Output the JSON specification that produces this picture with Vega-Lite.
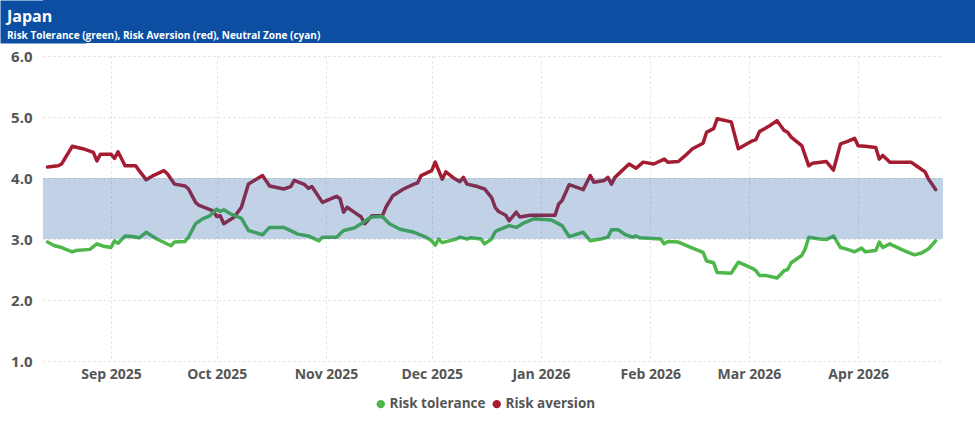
{
  "$schema": "https://vega.github.io/schema/vega-lite/v6.json",
  "padding": 0,
  "background": "white",
  "spacing": 6,
  "config": {
    "font": "Open Sans",
    "view": {"stroke": null}
  },
  "vconcat": [
    {
      "width": 932,
      "height": 43,
      "data": {"values": [{"v": 0}]},
      "layer": [
        {"mark": {"type": "rect", "color": "#0B4EA2"}, "encoding": {}},
        {
          "mark": {"type": "point", "opacity": 0},
          "encoding": {
            "y": {
              "field": "v", "type": "quantitative",
              "axis": {
                "title": null, "labels": false, "ticks": false, "grid": false,
                "domain": true, "domainWidth": 86, "domainColor": "#0B4EA2", "domainCap": "butt",
                "minExtent": 43, "maxExtent": 43
              }
            }
          }
        }
      ],
      "title": {
        "text": "Japan",
        "subtitle": "Risk Tolerance (green), Risk Aversion (red), Neutral Zone (cyan)",
        "anchor": "start",
        "frame": "group",
        "orient": "top",
        "offset": -41,
        "dx": -36,
        "color": "white",
        "subtitleColor": "white",
        "font": "Open Sans",
        "subtitleFont": "Open Sans",
        "fontSize": 16,
        "subtitleFontSize": 10,
        "fontWeight": "bold",
        "subtitleFontWeight": "bold",
        "subtitlePadding": 6
      }
    },
    {
      "width": 900,
      "height": 305,
      "layer": [
        {
          "data": {"name": "series"},
          "mark": {"type": "line", "strokeWidth": 3.5, "strokeJoin": "round", "strokeCap": "round"},
          "encoding": {
            "x": {
              "field": "date", "type": "temporal",
              "scale": {"domain": ["2025-08-12T17:00:00", "2026-04-25T02:00:00"]},
              "axis": {
                "title": null,
                "format": "%b %Y",
                "tickCount": {"interval": "month", "step": 1},
                "grid": true,
                "gridDash": [2, 3],
                "gridColor": "#dcdcdc",
                "domain": false,
                "ticks": false,
                "labelPadding": 6,
                "labelFont": "Open Sans",
                "labelFontSize": 14,
                "labelFontWeight": "bold",
                "labelColor": "#555555"
              }
            },
            "y": {
              "field": "value", "type": "quantitative",
              "scale": {"domain": [1, 6], "nice": false, "zero": false},
              "axis": {
                "title": null,
                "values": [1, 2, 3, 4, 5, 6],
                "format": ".1f",
                "grid": true,
                "gridDash": [2, 3],
                "gridColor": "#dcdcdc",
                "domain": false,
                "ticks": false,
                "labelPadding": 11,
                "minExtent": 43,
                "maxExtent": 43,
                "labelFont": "Open Sans",
                "labelFontSize": 15,
                "labelFontWeight": "bold",
                "labelColor": "#555555"
              }
            },
            "color": {
              "field": "series", "type": "nominal",
              "scale": {"domain": ["Risk tolerance", "Risk aversion"], "range": ["#4DB849", "#A51C30"]},
              "legend": {
                "title": null,
                "orient": "none",
                "legendX": 331,
                "legendY": 397,
                "direction": "horizontal",
                "symbolType": "circle",
                "symbolSize": 70,
                "symbolStrokeWidth": 0,
                "labelFont": "Open Sans",
                "labelFontSize": 13.5,
                "labelFontWeight": "bold",
                "labelColor": "#555555",
                "columnPadding": 4,
                "labelOffset": 2,
                "encode": {"symbols": {"update": {"fill": {"scale": "color", "field": "value"}}}}
              }
            }
          }
        },
        {
          "data": {"values": [{"start": "2025-08-12T17:00:00", "end": "2026-04-25T02:00:00", "lo": 3, "hi": 4}]},
          "mark": {"type": "rect", "color": "#1F5FA8", "opacity": 0.28},
          "encoding": {
            "x": {"field": "start", "type": "temporal"},
            "x2": {"field": "end"},
            "y": {"field": "lo", "type": "quantitative"},
            "y2": {"field": "hi"}
          }
        }
      ]
    }
  ],
  "datasets": {
    "series": [
      {"date": "2025-08-14", "series": "Risk aversion", "value": 4.18},
      {"date": "2025-08-17", "series": "Risk aversion", "value": 4.20},
      {"date": "2025-08-18", "series": "Risk aversion", "value": 4.23},
      {"date": "2025-08-21", "series": "Risk aversion", "value": 4.52},
      {"date": "2025-08-24", "series": "Risk aversion", "value": 4.48},
      {"date": "2025-08-27", "series": "Risk aversion", "value": 4.42},
      {"date": "2025-08-28", "series": "Risk aversion", "value": 4.28},
      {"date": "2025-08-29", "series": "Risk aversion", "value": 4.39},
      {"date": "2025-09-01", "series": "Risk aversion", "value": 4.39},
      {"date": "2025-09-02", "series": "Risk aversion", "value": 4.32},
      {"date": "2025-09-03", "series": "Risk aversion", "value": 4.43},
      {"date": "2025-09-05", "series": "Risk aversion", "value": 4.20},
      {"date": "2025-09-08", "series": "Risk aversion", "value": 4.20},
      {"date": "2025-09-09", "series": "Risk aversion", "value": 4.12},
      {"date": "2025-09-11", "series": "Risk aversion", "value": 3.97},
      {"date": "2025-09-13", "series": "Risk aversion", "value": 4.04},
      {"date": "2025-09-16", "series": "Risk aversion", "value": 4.12},
      {"date": "2025-09-17", "series": "Risk aversion", "value": 4.07},
      {"date": "2025-09-19", "series": "Risk aversion", "value": 3.90},
      {"date": "2025-09-22", "series": "Risk aversion", "value": 3.87},
      {"date": "2025-09-23", "series": "Risk aversion", "value": 3.82},
      {"date": "2025-09-25", "series": "Risk aversion", "value": 3.60},
      {"date": "2025-09-26", "series": "Risk aversion", "value": 3.55},
      {"date": "2025-09-30", "series": "Risk aversion", "value": 3.46},
      {"date": "2025-10-01", "series": "Risk aversion", "value": 3.37},
      {"date": "2025-10-02", "series": "Risk aversion", "value": 3.38},
      {"date": "2025-10-03", "series": "Risk aversion", "value": 3.25},
      {"date": "2025-10-06", "series": "Risk aversion", "value": 3.36},
      {"date": "2025-10-08", "series": "Risk aversion", "value": 3.52},
      {"date": "2025-10-10", "series": "Risk aversion", "value": 3.90},
      {"date": "2025-10-12", "series": "Risk aversion", "value": 3.97},
      {"date": "2025-10-14", "series": "Risk aversion", "value": 4.04},
      {"date": "2025-10-16", "series": "Risk aversion", "value": 3.87},
      {"date": "2025-10-20", "series": "Risk aversion", "value": 3.82},
      {"date": "2025-10-22", "series": "Risk aversion", "value": 3.86},
      {"date": "2025-10-23", "series": "Risk aversion", "value": 3.96},
      {"date": "2025-10-26", "series": "Risk aversion", "value": 3.89},
      {"date": "2025-10-27", "series": "Risk aversion", "value": 3.83},
      {"date": "2025-10-28", "series": "Risk aversion", "value": 3.86},
      {"date": "2025-10-31", "series": "Risk aversion", "value": 3.60},
      {"date": "2025-11-04", "series": "Risk aversion", "value": 3.70},
      {"date": "2025-11-05", "series": "Risk aversion", "value": 3.66},
      {"date": "2025-11-06", "series": "Risk aversion", "value": 3.44},
      {"date": "2025-11-07", "series": "Risk aversion", "value": 3.52},
      {"date": "2025-11-09", "series": "Risk aversion", "value": 3.44},
      {"date": "2025-11-11", "series": "Risk aversion", "value": 3.36},
      {"date": "2025-11-12", "series": "Risk aversion", "value": 3.25},
      {"date": "2025-11-14", "series": "Risk aversion", "value": 3.38},
      {"date": "2025-11-17", "series": "Risk aversion", "value": 3.38},
      {"date": "2025-11-18", "series": "Risk aversion", "value": 3.52},
      {"date": "2025-11-20", "series": "Risk aversion", "value": 3.71},
      {"date": "2025-11-23", "series": "Risk aversion", "value": 3.82},
      {"date": "2025-11-26", "series": "Risk aversion", "value": 3.90},
      {"date": "2025-11-27", "series": "Risk aversion", "value": 3.92},
      {"date": "2025-11-28", "series": "Risk aversion", "value": 4.04},
      {"date": "2025-12-01", "series": "Risk aversion", "value": 4.12},
      {"date": "2025-12-02", "series": "Risk aversion", "value": 4.26},
      {"date": "2025-12-04", "series": "Risk aversion", "value": 3.98},
      {"date": "2025-12-05", "series": "Risk aversion", "value": 4.10},
      {"date": "2025-12-07", "series": "Risk aversion", "value": 4.01},
      {"date": "2025-12-09", "series": "Risk aversion", "value": 3.94},
      {"date": "2025-12-10", "series": "Risk aversion", "value": 4.01},
      {"date": "2025-12-11", "series": "Risk aversion", "value": 3.90},
      {"date": "2025-12-14", "series": "Risk aversion", "value": 3.86},
      {"date": "2025-12-16", "series": "Risk aversion", "value": 3.82},
      {"date": "2025-12-18", "series": "Risk aversion", "value": 3.68},
      {"date": "2025-12-19", "series": "Risk aversion", "value": 3.52},
      {"date": "2025-12-20", "series": "Risk aversion", "value": 3.45},
      {"date": "2025-12-22", "series": "Risk aversion", "value": 3.39},
      {"date": "2025-12-23", "series": "Risk aversion", "value": 3.30},
      {"date": "2025-12-25", "series": "Risk aversion", "value": 3.44},
      {"date": "2025-12-26", "series": "Risk aversion", "value": 3.36},
      {"date": "2025-12-29", "series": "Risk aversion", "value": 3.39},
      {"date": "2026-01-05", "series": "Risk aversion", "value": 3.39},
      {"date": "2026-01-06", "series": "Risk aversion", "value": 3.57},
      {"date": "2026-01-07", "series": "Risk aversion", "value": 3.63},
      {"date": "2026-01-09", "series": "Risk aversion", "value": 3.89},
      {"date": "2026-01-11", "series": "Risk aversion", "value": 3.85},
      {"date": "2026-01-13", "series": "Risk aversion", "value": 3.81},
      {"date": "2026-01-15", "series": "Risk aversion", "value": 4.04},
      {"date": "2026-01-16", "series": "Risk aversion", "value": 3.93},
      {"date": "2026-01-19", "series": "Risk aversion", "value": 3.96},
      {"date": "2026-01-20", "series": "Risk aversion", "value": 4.01},
      {"date": "2026-01-21", "series": "Risk aversion", "value": 3.90},
      {"date": "2026-01-22", "series": "Risk aversion", "value": 4.01},
      {"date": "2026-01-26", "series": "Risk aversion", "value": 4.23},
      {"date": "2026-01-28", "series": "Risk aversion", "value": 4.16},
      {"date": "2026-01-30", "series": "Risk aversion", "value": 4.26},
      {"date": "2026-02-02", "series": "Risk aversion", "value": 4.23},
      {"date": "2026-02-05", "series": "Risk aversion", "value": 4.31},
      {"date": "2026-02-06", "series": "Risk aversion", "value": 4.26},
      {"date": "2026-02-09", "series": "Risk aversion", "value": 4.27},
      {"date": "2026-02-11", "series": "Risk aversion", "value": 4.37},
      {"date": "2026-02-13", "series": "Risk aversion", "value": 4.48},
      {"date": "2026-02-16", "series": "Risk aversion", "value": 4.57},
      {"date": "2026-02-17", "series": "Risk aversion", "value": 4.75},
      {"date": "2026-02-19", "series": "Risk aversion", "value": 4.81},
      {"date": "2026-02-20", "series": "Risk aversion", "value": 4.97},
      {"date": "2026-02-24", "series": "Risk aversion", "value": 4.92},
      {"date": "2026-02-26", "series": "Risk aversion", "value": 4.48},
      {"date": "2026-03-02", "series": "Risk aversion", "value": 4.61},
      {"date": "2026-03-03", "series": "Risk aversion", "value": 4.63},
      {"date": "2026-03-04", "series": "Risk aversion", "value": 4.76},
      {"date": "2026-03-07", "series": "Risk aversion", "value": 4.86},
      {"date": "2026-03-09", "series": "Risk aversion", "value": 4.94},
      {"date": "2026-03-11", "series": "Risk aversion", "value": 4.78},
      {"date": "2026-03-12", "series": "Risk aversion", "value": 4.75},
      {"date": "2026-03-13", "series": "Risk aversion", "value": 4.67},
      {"date": "2026-03-16", "series": "Risk aversion", "value": 4.53},
      {"date": "2026-03-18", "series": "Risk aversion", "value": 4.20},
      {"date": "2026-03-19", "series": "Risk aversion", "value": 4.24},
      {"date": "2026-03-23", "series": "Risk aversion", "value": 4.27},
      {"date": "2026-03-25", "series": "Risk aversion", "value": 4.13},
      {"date": "2026-03-27", "series": "Risk aversion", "value": 4.56},
      {"date": "2026-03-29", "series": "Risk aversion", "value": 4.60},
      {"date": "2026-03-31", "series": "Risk aversion", "value": 4.65},
      {"date": "2026-04-01", "series": "Risk aversion", "value": 4.53},
      {"date": "2026-04-03", "series": "Risk aversion", "value": 4.52},
      {"date": "2026-04-06", "series": "Risk aversion", "value": 4.50},
      {"date": "2026-04-07", "series": "Risk aversion", "value": 4.31},
      {"date": "2026-04-08", "series": "Risk aversion", "value": 4.37},
      {"date": "2026-04-10", "series": "Risk aversion", "value": 4.26},
      {"date": "2026-04-16", "series": "Risk aversion", "value": 4.26},
      {"date": "2026-04-18", "series": "Risk aversion", "value": 4.18},
      {"date": "2026-04-20", "series": "Risk aversion", "value": 4.10},
      {"date": "2026-04-21", "series": "Risk aversion", "value": 3.98},
      {"date": "2026-04-23", "series": "Risk aversion", "value": 3.81},
      {"date": "2025-08-14", "series": "Risk tolerance", "value": 2.95},
      {"date": "2025-08-16", "series": "Risk tolerance", "value": 2.89},
      {"date": "2025-08-18", "series": "Risk tolerance", "value": 2.86},
      {"date": "2025-08-21", "series": "Risk tolerance", "value": 2.79},
      {"date": "2025-08-22", "series": "Risk tolerance", "value": 2.81},
      {"date": "2025-08-26", "series": "Risk tolerance", "value": 2.83},
      {"date": "2025-08-28", "series": "Risk tolerance", "value": 2.92},
      {"date": "2025-08-30", "series": "Risk tolerance", "value": 2.88},
      {"date": "2025-09-01", "series": "Risk tolerance", "value": 2.86},
      {"date": "2025-09-02", "series": "Risk tolerance", "value": 2.97},
      {"date": "2025-09-03", "series": "Risk tolerance", "value": 2.93},
      {"date": "2025-09-05", "series": "Risk tolerance", "value": 3.05},
      {"date": "2025-09-07", "series": "Risk tolerance", "value": 3.04},
      {"date": "2025-09-09", "series": "Risk tolerance", "value": 3.02},
      {"date": "2025-09-11", "series": "Risk tolerance", "value": 3.11},
      {"date": "2025-09-14", "series": "Risk tolerance", "value": 3.00},
      {"date": "2025-09-18", "series": "Risk tolerance", "value": 2.89},
      {"date": "2025-09-19", "series": "Risk tolerance", "value": 2.95},
      {"date": "2025-09-22", "series": "Risk tolerance", "value": 2.96},
      {"date": "2025-09-23", "series": "Risk tolerance", "value": 3.03},
      {"date": "2025-09-25", "series": "Risk tolerance", "value": 3.25},
      {"date": "2025-09-27", "series": "Risk tolerance", "value": 3.33},
      {"date": "2025-09-29", "series": "Risk tolerance", "value": 3.38},
      {"date": "2025-10-01", "series": "Risk tolerance", "value": 3.49},
      {"date": "2025-10-02", "series": "Risk tolerance", "value": 3.45},
      {"date": "2025-10-03", "series": "Risk tolerance", "value": 3.48},
      {"date": "2025-10-05", "series": "Risk tolerance", "value": 3.41},
      {"date": "2025-10-08", "series": "Risk tolerance", "value": 3.34},
      {"date": "2025-10-10", "series": "Risk tolerance", "value": 3.14},
      {"date": "2025-10-14", "series": "Risk tolerance", "value": 3.07},
      {"date": "2025-10-16", "series": "Risk tolerance", "value": 3.19},
      {"date": "2025-10-20", "series": "Risk tolerance", "value": 3.19},
      {"date": "2025-10-24", "series": "Risk tolerance", "value": 3.08},
      {"date": "2025-10-27", "series": "Risk tolerance", "value": 3.05},
      {"date": "2025-10-30", "series": "Risk tolerance", "value": 2.97},
      {"date": "2025-10-31", "series": "Risk tolerance", "value": 3.03},
      {"date": "2025-11-04", "series": "Risk tolerance", "value": 3.03},
      {"date": "2025-11-06", "series": "Risk tolerance", "value": 3.14},
      {"date": "2025-11-09", "series": "Risk tolerance", "value": 3.18},
      {"date": "2025-11-11", "series": "Risk tolerance", "value": 3.25},
      {"date": "2025-11-13", "series": "Risk tolerance", "value": 3.33},
      {"date": "2025-11-14", "series": "Risk tolerance", "value": 3.36},
      {"date": "2025-11-17", "series": "Risk tolerance", "value": 3.37},
      {"date": "2025-11-19", "series": "Risk tolerance", "value": 3.25},
      {"date": "2025-11-22", "series": "Risk tolerance", "value": 3.16},
      {"date": "2025-11-26", "series": "Risk tolerance", "value": 3.11},
      {"date": "2025-11-29", "series": "Risk tolerance", "value": 3.04},
      {"date": "2025-12-01", "series": "Risk tolerance", "value": 2.97},
      {"date": "2025-12-02", "series": "Risk tolerance", "value": 2.90},
      {"date": "2025-12-03", "series": "Risk tolerance", "value": 3.00},
      {"date": "2025-12-04", "series": "Risk tolerance", "value": 2.94},
      {"date": "2025-12-08", "series": "Risk tolerance", "value": 3.00},
      {"date": "2025-12-09", "series": "Risk tolerance", "value": 3.03},
      {"date": "2025-12-11", "series": "Risk tolerance", "value": 3.00},
      {"date": "2025-12-12", "series": "Risk tolerance", "value": 3.02},
      {"date": "2025-12-15", "series": "Risk tolerance", "value": 3.00},
      {"date": "2025-12-16", "series": "Risk tolerance", "value": 2.92},
      {"date": "2025-12-18", "series": "Risk tolerance", "value": 3.00},
      {"date": "2025-12-19", "series": "Risk tolerance", "value": 3.12},
      {"date": "2025-12-20", "series": "Risk tolerance", "value": 3.15},
      {"date": "2025-12-23", "series": "Risk tolerance", "value": 3.22},
      {"date": "2025-12-25", "series": "Risk tolerance", "value": 3.19},
      {"date": "2025-12-27", "series": "Risk tolerance", "value": 3.26},
      {"date": "2025-12-30", "series": "Risk tolerance", "value": 3.33},
      {"date": "2026-01-04", "series": "Risk tolerance", "value": 3.31},
      {"date": "2026-01-07", "series": "Risk tolerance", "value": 3.22},
      {"date": "2026-01-09", "series": "Risk tolerance", "value": 3.04},
      {"date": "2026-01-13", "series": "Risk tolerance", "value": 3.11},
      {"date": "2026-01-15", "series": "Risk tolerance", "value": 2.97},
      {"date": "2026-01-18", "series": "Risk tolerance", "value": 3.00},
      {"date": "2026-01-20", "series": "Risk tolerance", "value": 3.03},
      {"date": "2026-01-21", "series": "Risk tolerance", "value": 3.15},
      {"date": "2026-01-23", "series": "Risk tolerance", "value": 3.15},
      {"date": "2026-01-25", "series": "Risk tolerance", "value": 3.07},
      {"date": "2026-01-27", "series": "Risk tolerance", "value": 3.03},
      {"date": "2026-01-28", "series": "Risk tolerance", "value": 3.05},
      {"date": "2026-01-29", "series": "Risk tolerance", "value": 3.02},
      {"date": "2026-02-04", "series": "Risk tolerance", "value": 3.00},
      {"date": "2026-02-05", "series": "Risk tolerance", "value": 2.92},
      {"date": "2026-02-06", "series": "Risk tolerance", "value": 2.96},
      {"date": "2026-02-09", "series": "Risk tolerance", "value": 2.95},
      {"date": "2026-02-13", "series": "Risk tolerance", "value": 2.85},
      {"date": "2026-02-16", "series": "Risk tolerance", "value": 2.78},
      {"date": "2026-02-17", "series": "Risk tolerance", "value": 2.64},
      {"date": "2026-02-19", "series": "Risk tolerance", "value": 2.61},
      {"date": "2026-02-20", "series": "Risk tolerance", "value": 2.45},
      {"date": "2026-02-24", "series": "Risk tolerance", "value": 2.44},
      {"date": "2026-02-26", "series": "Risk tolerance", "value": 2.62},
      {"date": "2026-03-02", "series": "Risk tolerance", "value": 2.52},
      {"date": "2026-03-03", "series": "Risk tolerance", "value": 2.48},
      {"date": "2026-03-04", "series": "Risk tolerance", "value": 2.40},
      {"date": "2026-03-06", "series": "Risk tolerance", "value": 2.40},
      {"date": "2026-03-09", "series": "Risk tolerance", "value": 2.36},
      {"date": "2026-03-11", "series": "Risk tolerance", "value": 2.48},
      {"date": "2026-03-12", "series": "Risk tolerance", "value": 2.50},
      {"date": "2026-03-13", "series": "Risk tolerance", "value": 2.61},
      {"date": "2026-03-16", "series": "Risk tolerance", "value": 2.73},
      {"date": "2026-03-17", "series": "Risk tolerance", "value": 2.84},
      {"date": "2026-03-18", "series": "Risk tolerance", "value": 3.03},
      {"date": "2026-03-21", "series": "Risk tolerance", "value": 3.00},
      {"date": "2026-03-23", "series": "Risk tolerance", "value": 2.99},
      {"date": "2026-03-25", "series": "Risk tolerance", "value": 3.05},
      {"date": "2026-03-27", "series": "Risk tolerance", "value": 2.86},
      {"date": "2026-03-29", "series": "Risk tolerance", "value": 2.83},
      {"date": "2026-03-31", "series": "Risk tolerance", "value": 2.79},
      {"date": "2026-04-02", "series": "Risk tolerance", "value": 2.85},
      {"date": "2026-04-03", "series": "Risk tolerance", "value": 2.79},
      {"date": "2026-04-06", "series": "Risk tolerance", "value": 2.81},
      {"date": "2026-04-07", "series": "Risk tolerance", "value": 2.95},
      {"date": "2026-04-08", "series": "Risk tolerance", "value": 2.86},
      {"date": "2026-04-10", "series": "Risk tolerance", "value": 2.92},
      {"date": "2026-04-11", "series": "Risk tolerance", "value": 2.89},
      {"date": "2026-04-14", "series": "Risk tolerance", "value": 2.81},
      {"date": "2026-04-17", "series": "Risk tolerance", "value": 2.74},
      {"date": "2026-04-19", "series": "Risk tolerance", "value": 2.77},
      {"date": "2026-04-21", "series": "Risk tolerance", "value": 2.84},
      {"date": "2026-04-23", "series": "Risk tolerance", "value": 2.97}
    ]
  }
}
